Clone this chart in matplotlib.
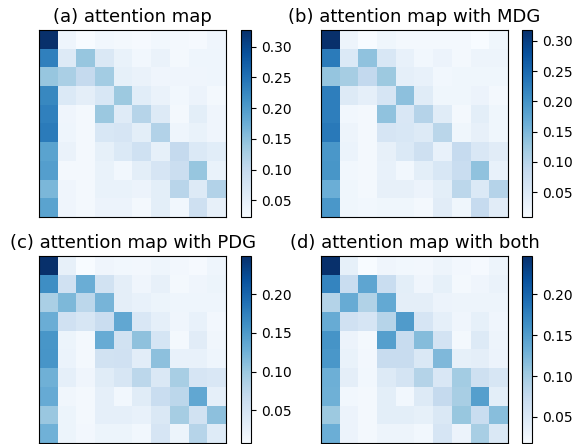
import matplotlib
matplotlib.use("Agg")
import matplotlib.pyplot as plt
import matplotlib.ticker as ticker
import numpy as np

# 10x10 attention maps (rows = queries, cols = keys)
attn_base = [
    [0.327, 0.037, 0.023, 0.032, 0.030, 0.026, 0.032, 0.030, 0.026, 0.035],
    [0.233, 0.061, 0.142, 0.068, 0.044, 0.032, 0.042, 0.030, 0.037, 0.037],
    [0.142, 0.126, 0.099, 0.132, 0.049, 0.042, 0.035, 0.035, 0.035, 0.037],
    [0.224, 0.065, 0.052, 0.070, 0.137, 0.056, 0.042, 0.032, 0.040, 0.030],
    [0.233, 0.035, 0.028, 0.139, 0.059, 0.114, 0.061, 0.030, 0.053, 0.035],
    [0.239, 0.037, 0.029, 0.070, 0.073, 0.053, 0.117, 0.037, 0.044, 0.035],
    [0.190, 0.042, 0.029, 0.049, 0.065, 0.084, 0.049, 0.099, 0.065, 0.056],
    [0.196, 0.030, 0.028, 0.044, 0.032, 0.053, 0.073, 0.090, 0.142, 0.044],
    [0.163, 0.035, 0.029, 0.044, 0.044, 0.040, 0.053, 0.111, 0.061, 0.117],
    [0.190, 0.035, 0.029, 0.040, 0.040, 0.030, 0.053, 0.032, 0.087, 0.047],
]

attn_mdg = [
    [0.318, 0.024, 0.009, 0.021, 0.016, 0.014, 0.016, 0.016, 0.010, 0.021],
    [0.228, 0.052, 0.135, 0.057, 0.031, 0.018, 0.026, 0.014, 0.024, 0.024],
    [0.132, 0.117, 0.089, 0.125, 0.036, 0.031, 0.018, 0.021, 0.021, 0.021],
    [0.225, 0.048, 0.036, 0.060, 0.137, 0.045, 0.021, 0.021, 0.026, 0.016],
    [0.225, 0.018, 0.014, 0.135, 0.055, 0.102, 0.045, 0.014, 0.040, 0.021],
    [0.230, 0.024, 0.016, 0.060, 0.057, 0.048, 0.098, 0.021, 0.034, 0.021],
    [0.194, 0.028, 0.016, 0.034, 0.052, 0.074, 0.031, 0.086, 0.055, 0.043],
    [0.196, 0.018, 0.014, 0.031, 0.018, 0.040, 0.057, 0.081, 0.135, 0.031],
    [0.163, 0.021, 0.014, 0.034, 0.034, 0.026, 0.040, 0.095, 0.052, 0.102],
    [0.194, 0.021, 0.018, 0.021, 0.021, 0.016, 0.043, 0.021, 0.086, 0.043],
]

attn_pdg = [
    [0.249, 0.027, 0.008, 0.018, 0.015, 0.014, 0.019, 0.014, 0.010, 0.019],
    [0.162, 0.056, 0.129, 0.055, 0.031, 0.018, 0.027, 0.012, 0.018, 0.021],
    [0.089, 0.118, 0.075, 0.121, 0.031, 0.025, 0.021, 0.019, 0.019, 0.019],
    [0.129, 0.056, 0.046, 0.063, 0.136, 0.044, 0.029, 0.018, 0.025, 0.014],
    [0.153, 0.021, 0.012, 0.131, 0.055, 0.107, 0.049, 0.012, 0.035, 0.016],
    [0.154, 0.023, 0.012, 0.055, 0.056, 0.033, 0.108, 0.025, 0.025, 0.019],
    [0.126, 0.029, 0.018, 0.036, 0.046, 0.075, 0.042, 0.090, 0.048, 0.044],
    [0.132, 0.016, 0.012, 0.029, 0.015, 0.036, 0.064, 0.075, 0.136, 0.029],
    [0.101, 0.021, 0.012, 0.029, 0.029, 0.025, 0.042, 0.092, 0.055, 0.108],
    [0.125, 0.021, 0.014, 0.021, 0.021, 0.015, 0.048, 0.021, 0.080, 0.038],
]

attn_both = [
    [0.247, 0.037, 0.018, 0.027, 0.025, 0.024, 0.029, 0.024, 0.020, 0.029],
    [0.172, 0.071, 0.141, 0.071, 0.041, 0.027, 0.037, 0.022, 0.027, 0.033],
    [0.088, 0.135, 0.090, 0.137, 0.040, 0.040, 0.031, 0.029, 0.029, 0.029],
    [0.135, 0.063, 0.056, 0.086, 0.151, 0.056, 0.038, 0.027, 0.037, 0.027],
    [0.158, 0.031, 0.022, 0.147, 0.073, 0.118, 0.060, 0.022, 0.047, 0.029],
    [0.155, 0.034, 0.024, 0.073, 0.073, 0.051, 0.121, 0.037, 0.040, 0.031],
    [0.131, 0.040, 0.025, 0.047, 0.058, 0.088, 0.052, 0.100, 0.065, 0.054],
    [0.130, 0.025, 0.022, 0.041, 0.025, 0.047, 0.076, 0.096, 0.147, 0.041],
    [0.104, 0.031, 0.022, 0.041, 0.041, 0.037, 0.051, 0.107, 0.071, 0.116],
    [0.132, 0.031, 0.022, 0.029, 0.029, 0.025, 0.056, 0.031, 0.096, 0.051],
]

titles = [
    "(a) attention map",
    "(b) attention map with MDG",
    "(c) attention map with PDG",
    "(d) attention map with both",
]
maps = [attn_base, attn_mdg, attn_pdg, attn_both]

W, H = 573, 444
fig = plt.figure(figsize=(W / 100, H / 100), dpi=100)

# pixel boxes (left, top) of each heatmap, size in px
side = 187
origins = [(39, 30), (321, 30), (39, 256), (321, 256)]
cbar_x = [241.5, 522, 241.5, 522]

for i, (data, title) in enumerate(zip(maps, titles)):
    x0, y0 = origins[i]
    ax = fig.add_axes([x0 / W, 1 - (y0 + side) / H, side / W, side / H])
    im = ax.imshow(np.array(data), cmap="Blues", interpolation="nearest", aspect="auto")
    ax.set_xticks([])
    ax.set_yticks([])
    ax.set_title(title, fontsize=13)

    cax = fig.add_axes([cbar_x[i] / W, 1 - (y0 + side) / H, 10 / W, side / H])
    cb = fig.colorbar(im, cax=cax)
    cb.locator = ticker.MultipleLocator(0.05)
    cb.formatter = ticker.FormatStrFormatter("%.2f")
    cb.update_ticks()
    cb.ax.tick_params(labelsize=10)

fig.savefig("out.png", dpi=100)
